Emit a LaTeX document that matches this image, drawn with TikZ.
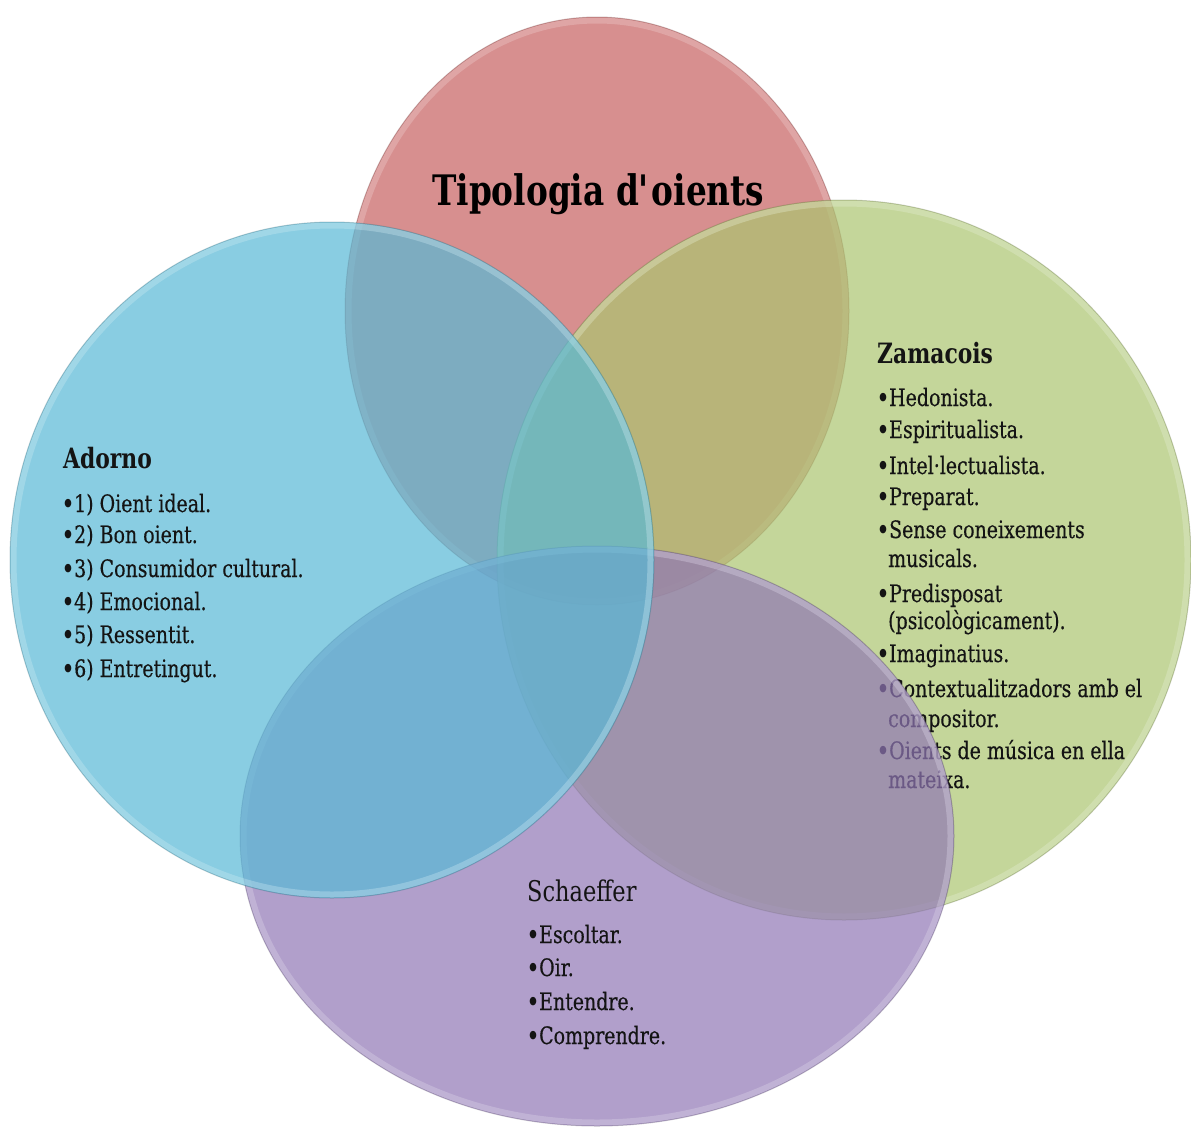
\documentclass[tikz,border=0pt]{standalone}
\usepackage{fontspec}
\newfontfamily\bodyfont{DejaVu Serif}[FakeStretch=0.79,FakeBold=0.35]
\newfontfamily\plainfont{DejaVu Serif}[FakeStretch=0.79]
\newfontfamily\headfont{DejaVu Serif Bold}[FakeStretch=0.78]
\newcommand\bul{{\headfont\textbullet}}

\definecolor{redfill}{RGB}{199,96,96}
\definecolor{greenfill}{RGB}{171,197,112}
\definecolor{bluefill}{RGB}{88,185,214}
\definecolor{purplefill}{RGB}{144,119,181}

% one translucent set of the diagram: colour, centre x, centre y, x radius, y radius
\newcommand\vennset[5]{%
  \fill[#1, fill opacity=0.7] (#2,#3) ellipse [x radius=#4pt, y radius=#5pt];
  \draw[#1!30!white, line width=6pt, draw opacity=0.35]
    (#2,#3) ellipse [x radius=#4pt-3.5pt, y radius=#5pt-3.5pt];
  \draw[#1!55!black, line width=1pt, draw opacity=0.3]
    (#2,#3) ellipse [x radius=#4pt, y radius=#5pt];
}

\tikzset{
  txt/.style={anchor=base west, inner sep=0pt, text=black!92,
    font={\bodyfont\fontsize{24pt}{28pt}\selectfont}},
  head/.style={anchor=base west, inner sep=0pt, text=black!92,
    font={\headfont\fontsize{28pt}{32pt}\selectfont}},
  subhead/.style={anchor=base west, inner sep=0pt, text=black!92,
    font={\plainfont\fontsize{28.5pt}{32pt}\selectfont}},
  titletext/.style={anchor=base west, inner sep=0pt, text=black,
    font={\headfont\fontsize{42pt}{46pt}\selectfont}},
}

\begin{document}
\begin{tikzpicture}[x=1pt,y=-1pt]
\useasboundingbox (0,0) rectangle (1191,1127);
\fill[white] (0,0) rectangle (1191,1127);

% top set with the title
\vennset{redfill}{597}{311}{252}{294}
\node[titletext] (title) at (432,205) {Tipologia d\textquotesingle oients};

% right set: Zamacois
\vennset{greenfill}{844}{560}{347}{360}
\node[head] (zam) at (877,363) {Zamacois};
\node[txt] (z1) at (877,406) {\bul Hedonista.};
\node[txt] (z2) at (877,438) {\bul Espiritualista.};
\node[txt] (z3) at (877,474) {\bul Intel·lectualista.};
\node[txt] (z4) at (877,505) {\bul Preparat.};
\node[txt] (z5) at (877,538) {\bul Sense coneixements};
\node[txt] (z5b) at (888,567) {musicals.};
\node[txt] (z6) at (877,602) {\bul Predisposat};
\node[txt] (z6b) at (888,629) {(psicològicament).};
\node[txt] (z7) at (877,662) {\bul Imaginatius.};
\node[txt] (z8) at (877,697) {\bul Contextualitzadors amb el};
\node[txt] (z8b) at (888,727) {compositor.};
\node[txt] (z9) at (877,759) {\bul Oients de música en ella};
\node[txt] (z9b) at (888,788) {mateixa.};

% bottom set: Schaeffer
\vennset{purplefill}{597}{836}{357}{290}
\node[subhead] (sch) at (527,901) {Schaeffer};
\node[txt] (s1) at (527,943) {\bul Escoltar.};
\node[txt] (s2) at (527,976) {\bul Oir.};
\node[txt] (s3) at (527,1010) {\bul Entendre.};
\node[txt] (s4) at (527,1044) {\bul Comprendre.};

% left set: Adorno
\vennset{bluefill}{332}{560}{322}{338}
\node[head] (ado) at (63,468) {Adorno};
\node[txt] (a1) at (62,512) {\bul 1) Oient ideal.};
\node[txt] (a2) at (62,543) {\bul 2) Bon oient.};
\node[txt] (a3) at (62,577) {\bul 3) Consumidor cultural.};
\node[txt] (a4) at (62,610) {\bul 4) Emocional.};
\node[txt] (a5) at (62,643) {\bul 5) Ressentit.};
\node[txt] (a6) at (62,677) {\bul 6) Entretingut.};
\end{tikzpicture}
\end{document}
